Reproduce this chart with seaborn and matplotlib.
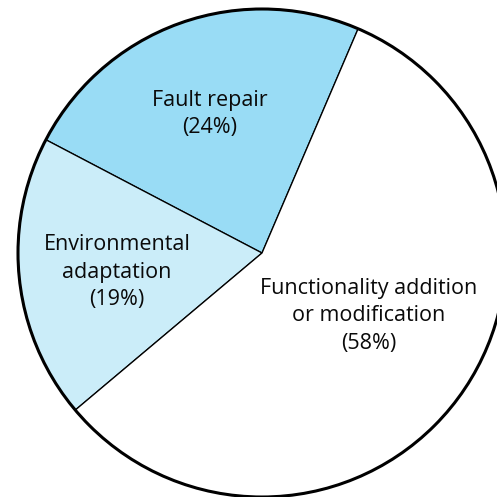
import matplotlib
matplotlib.use("Agg")
import matplotlib.pyplot as plt
import seaborn as sns
from matplotlib.patches import Circle

sns.set_style("white")
plt.rcParams["font.family"] = ["Open Sans", "DejaVu Sans"]

# Maintenance effort distribution
categories = ["Fault repair", "Environmental\nadaptation", "Functionality addition\nor modification"]
shares = [24, 19, 58]
colors = ["#99DCF5", "#CBEDF9", "#FFFFFF"]
label_pos = [(-0.213, 0.570), (-0.594, -0.078), (0.439, -0.258)]

fig = plt.figure(figsize=(4.97, 4.97), dpi=100)
ax = fig.add_axes([0, 0, 1, 1])

ax.pie(shares, colors=colors, startangle=66.8, counterclock=True,
       wedgeprops=dict(edgecolor="black", linewidth=0.95))
ax.add_patch(Circle((0, 0), 1.0, fill=False, edgecolor="black", linewidth=2.2, zorder=5))

for name, val, (x, y) in zip(categories, shares, label_pos):
    ax.text(x, y, f"{name}\n({val}%)", ha="center", va="center",
            fontsize=15.5, color="#0A0A0A", linespacing=1.38)

ax.set_xlim(-262 / 244, (497 - 262) / 244)
ax.set_ylim(-(497 - 253) / 244, 253 / 244)
ax.set_aspect("equal")
ax.axis("off")

fig.savefig("out.png", dpi=100, facecolor="white")
